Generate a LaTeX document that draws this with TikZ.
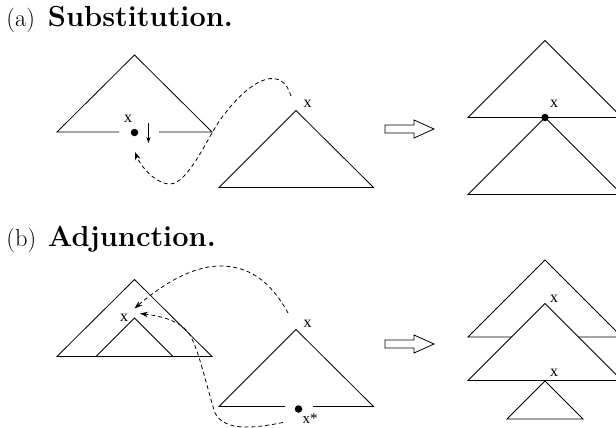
\documentclass[tikz,border=0pt]{standalone}
\usepackage{fontspec}
\newfontfamily\labelfont{Liberation Serif}
\usetikzlibrary{arrows.meta}
\begin{document}
\begin{tikzpicture}[x=1pt,y=-1pt, line width=0.8pt, line join=miter,
  lbl/.style={font=\labelfont\fontsize{16}{16}\selectfont, inner sep=0pt},
  dot/.style={circle, fill=black, inner sep=0pt, minimum size=7.5pt},
  dashconn/.style={line width=0.8pt, dash pattern=on 4pt off 3pt, -{Stealth[length=8pt,width=5.5pt]}},
  bigarrow/.style={draw, line width=0.8pt, fill=white},
  titlenum/.style={inner sep=0pt, anchor=base west, font=\fontsize{24.5}{28}\selectfont},
  titletext/.style={inner sep=0pt, anchor=base west, font=\fontsize{29}{33}\selectfont\bfseries}]
\clip (0,0) rectangle (616,428);

% ---------- (a) Substitution ----------
\node[titlenum] (ta) at (6,27) {(a)};
\node[titletext] (tas) at (47.5,27) {Substitution.};

% left tree with substitution node
\draw (119,132) -- (57,132) -- (134.5,55) -- (212,132) -- (159,132);
\node[dot] (sa) at (134.5,132.5) {};
\node[lbl] (xa1) at (128,119) {x};
\coordinate (da1) at (148.5,123);
\coordinate (da2) at (148.5,143);
\draw[line width=0.8pt, -{Stealth[length=6pt,width=4pt]}] (da1) -- (da2);

% right tree
\draw (296,110.5) -- (373.5,187.5) -- (219,187.5) -- cycle;
\node[lbl] (xa2) at (307.5,104) {x};

% dashed connector
\coordinate (ca1) at (291,96);
\coordinate (ca2) at (135,152);
\draw[dashconn] (ca1) .. controls (283,68) and (255,72) .. (220,120)
  .. controls (208,137) and (188,184) .. (170,184)
  .. controls (155,184) and (140,165) .. (ca2);

% big arrow
\draw[bigarrow] (385,125) -- (414,125) -- (414,120) -- (434,129) -- (414,138) -- (414,133) -- (385,133) -- cycle;

% result
\draw (468,117.5) -- (545,40.5) -- (622,117.5) -- cycle;
\draw (545,117.5) -- (468,194.5) -- (622,194.5) -- cycle;
\node[dot] (ra) at (545,117.5) {};
\node[lbl] (xa3) at (554,104) {x};

% ---------- (b) Adjunction ----------
\node[titlenum] (tb) at (6,246) {(b)};
\node[titletext] (tbs) at (47.5,246) {Adjunction.};

% left tree with inner subtree
\draw (57,356.5) -- (134.5,279.5) -- (212,356.5) -- cycle;
\draw (96,356.5) -- (134.5,318) -- (173,356.5);
\node[lbl] (xb1) at (124,318) {x};

% right auxiliary tree
\draw (285,406.5) -- (219,406.5) -- (296,329.5) -- (373.5,406.5) -- (313,406.5);
\node[dot] (sb) at (298.5,409) {};
\node[lbl] (xb2) at (307.5,323.5) {x};
\node[lbl, font=\labelfont\fontsize{15}{15}\selectfont] (xb3) at (310,419) {x*};

% dashed connectors
\coordinate (cb1s) at (288,313);
\coordinate (cb1e) at (134.5,308.5);
\draw[dashconn] (cb1s) .. controls (270,280) and (248,266) .. (220,266)
  .. controls (190,266) and (158,288) .. (cb1e);
\coordinate (cb2s) at (283,422.5);
\coordinate (cb2e) at (140,313.5);
\draw[dashconn] (cb2s) .. controls (255,428) and (225,432) .. (215,413)
  .. controls (208,392) and (198,345) .. (188,332)
  .. controls (178,320) and (160,316) .. (cb2e);

% big arrow
\draw[bigarrow] (385,340) -- (414,340) -- (414,335) -- (434,344) -- (414,353) -- (414,348) -- (385,348) -- cycle;

% result
\draw (468,337) -- (545,260) -- (622,337) -- cycle;
\draw[fill=white] (545,303.5) -- (468,380.5) -- (622,380.5) -- cycle;
\draw (545,381) -- (507,419) -- (583,419) -- cycle;
\node[lbl] (xb4) at (554,299) {x};
\node[lbl] (xb5) at (554,372.5) {x};
\end{tikzpicture}
\end{document}
